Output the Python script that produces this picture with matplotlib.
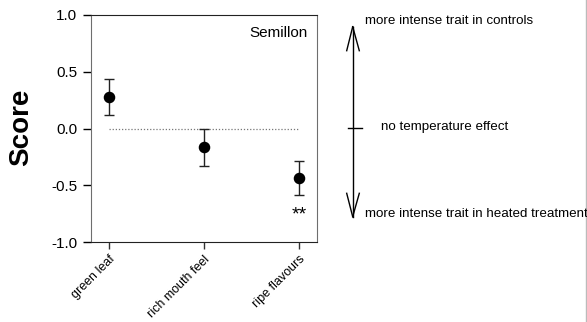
import matplotlib.pyplot as plt
from matplotlib.lines import Line2D

# Data
traits = ["green leaf", "rich mouth feel", "ripe flavours"]
scores = [0.28, -0.165, -0.44]
err_low = [0.16, 0.165, 0.15]
err_high = [0.16, 0.165, 0.15]
yticks = [-1.0, -0.5, 0.0, 0.5, 1.0]
signif = ["", "", "**"]

plt.rcParams["font.family"] = ["Liberation Sans", "DejaVu Sans"]

W, H = 587, 322
fig = plt.figure(figsize=(W / 100, H / 100), dpi=100)
ax = fig.add_axes([91 / W, 1 - 242 / H, 226 / W, 227 / H])

x = list(range(len(traits)))

# zero reference line
ax.hlines(0, x[0], x[-1], colors="#777777", linestyles=(0, (1, 1.5)), linewidth=0.9)

ax.errorbar(x, scores, yerr=[err_low, err_high], fmt="o", color="black",
            markersize=7.3, ecolor="#222222", elinewidth=1.0, capsize=3.8,
            capthick=1.0)

for xi, yi, lo, s in zip(x, scores, err_low, signif):
    if s:
        ax.text(xi, yi - lo - 0.17, s, ha="center", va="center", fontsize=14)

ax.set_xlim(-0.19, 2.19)
ax.set_ylim(-1.0, 1.0)
ax.set_yticks(yticks)
ax.set_yticklabels([f"{v:.1f}" for v in yticks], fontsize=11)
ax.set_xticks(x)
ax.set_xticklabels(traits, rotation=45, ha="right", rotation_mode="anchor",
                   fontsize=9)
ax.tick_params(axis="y", length=5.8, width=1, pad=4, color="black")
ax.tick_params(axis="x", length=5, width=1, pad=3, color="#333333")

for side in ["left", "right"]:
    ax.spines[side].set_color("#6e6e6e")
for side in ["top", "bottom"]:
    ax.spines[side].set_color("#222222")

ax.text(0.96, 0.92, "Semillon", transform=ax.transAxes, ha="right",
        va="center", fontsize=11)

fig.text(21 / W, 1 - 127 / H, "Score", rotation=90, ha="center", va="center",
         fontsize=20, fontweight="bold")


def px(xp, yp):
    return xp / W, 1 - yp / H


def seg(p0, p1, lw=1.0):
    (x0, y0), (x1, y1) = px(*p0), px(*p1)
    fig.add_artist(Line2D([x0, x1], [y0, y1], color="black", linewidth=lw,
                          transform=fig.transFigure))


# explanatory double arrow on the right
ax_x = 352.7
seg((ax_x, 26.7), (ax_x, 216.7))
seg((ax_x, 26.7), (346.7, 50.7))
seg((ax_x, 26.7), (359.3, 50.7))
seg((ax_x, 216.7), (346.7, 193.3))
seg((ax_x, 216.7), (359.3, 193.3))
seg((347.5, 128), (362, 128))

fig.text(*px(365, 21), "more intense trait in controls", ha="left",
         va="center", fontsize=9.6)
fig.text(*px(381, 127), "no temperature effect", ha="left", va="center",
         fontsize=9.6)
fig.text(*px(365, 214), "more intense trait in heated treatment", ha="left",
         va="center", fontsize=9.6)

# thin border at the right edge
fig.add_artist(Line2D([0.9985, 0.9985], [0, 1], color="#bbbbbb",
                      linewidth=1, transform=fig.transFigure))

fig.savefig("out.png", dpi=100)
